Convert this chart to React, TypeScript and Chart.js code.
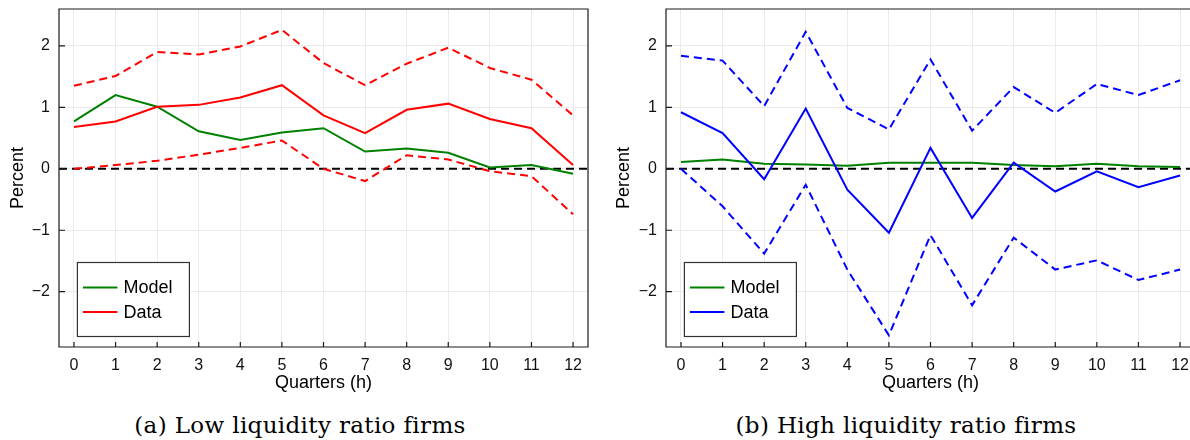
import React, { useEffect, useRef } from "react";
import { Chart, registerables } from "chart.js";

Chart.register(...registerables);

// ---------------- data ----------------
const quarters = [0, 1, 2, 3, 4, 5, 6, 7, 8, 9, 10, 11, 12];
const yTickValues = [-2, -1, 0, 1, 2];

const lowModel = [0.77, 1.2, 1.01, 0.61, 0.47, 0.59, 0.66, 0.28, 0.33, 0.26, 0.02, 0.06, -0.08];
const lowData = [0.68, 0.77, 1.01, 1.04, 1.16, 1.36, 0.87, 0.58, 0.96, 1.06, 0.81, 0.66, 0.06];
const lowUpper = [1.35, 1.51, 1.9, 1.86, 1.99, 2.26, 1.72, 1.36, 1.71, 1.97, 1.64, 1.45, 0.87];
const lowLower = [0.0, 0.06, 0.13, 0.23, 0.34, 0.46, 0.0, -0.2, 0.22, 0.15, -0.04, -0.12, -0.74];

const highModel = [0.11, 0.15, 0.08, 0.07, 0.05, 0.1, 0.1, 0.1, 0.06, 0.04, 0.08, 0.04, 0.03];
const highData = [0.92, 0.58, -0.17, 0.98, -0.34, -1.04, 0.34, -0.8, 0.1, -0.37, -0.04, -0.3, -0.11];
const highUpper = [1.84, 1.76, 1.02, 2.23, 0.99, 0.64, 1.78, 0.62, 1.33, 0.91, 1.38, 1.2, 1.44];
const highLower = [0.0, -0.61, -1.38, -0.26, -1.64, -2.71, -1.08, -2.22, -1.12, -1.64, -1.49, -1.81, -1.64];

const captionA = "(a) Low liquidity ratio firms";
const captionB = "(b) High liquidity ratio firms";

const X_MIN = -0.36;
const X_MAX = 12.36;
const Y_MIN = -2.9;
const Y_MAX = 2.6;

const SANS = "'Liberation Sans', Arial, Helvetica, sans-serif";
const GREEN = "#008000";
const RED = "#ff0000";
const BLUE = "#0000ff";

const toPts = (vals: number[]) => vals.map((v, i) => ({ x: quarters[i], y: v }));

const fmtTick = (v: number) => (v < 0 ? "\u2212" + Math.abs(v) : String(v));

const decorPlugin = {
  id: "decor",
  beforeDatasetsDraw(chart: any) {
    const { ctx, chartArea, scales } = chart;
    const y0 = scales.y.getPixelForValue(0);
    ctx.save();
    ctx.strokeStyle = "#000";
    ctx.lineWidth = 2;
    ctx.setLineDash([8, 5]);
    ctx.beginPath();
    ctx.moveTo(chartArea.left, y0);
    ctx.lineTo(chartArea.right, y0);
    ctx.stroke();
    ctx.restore();
  },
  afterDraw(chart: any, _args: any, opts: any) {
    const { ctx, chartArea, scales } = chart;
    const { left, right, top, bottom } = chartArea;
    ctx.save();
    // box
    ctx.strokeStyle = "#1a1a1a";
    ctx.lineWidth = 1.2;
    ctx.setLineDash([]);
    ctx.beginPath();
    ctx.rect(left, top, right - left, bottom - top);
    ctx.stroke();
    // inward ticks
    ctx.beginPath();
    for (const q of quarters) {
      const px = scales.x.getPixelForValue(q);
      ctx.moveTo(px, bottom);
      ctx.lineTo(px, bottom - 5);
    }
    for (const v of yTickValues) {
      const py = scales.y.getPixelForValue(v);
      ctx.moveTo(left, py);
      ctx.lineTo(left + 6, py);
    }
    ctx.stroke();

    // legend
    const items = chart.data.datasets.filter((d: any) => d.inLegend);
    const bx = left + opts.offsetX;
    const bw = opts.width;
    const bh = opts.height;
    const by = bottom - opts.offsetBottom - bh;
    ctx.fillStyle = "#fff";
    ctx.fillRect(bx, by, bw, bh);
    ctx.strokeStyle = "#333";
    ctx.lineWidth = 1.2;
    ctx.strokeRect(bx, by, bw, bh);
    ctx.font = `18px ${SANS}`;
    ctx.textBaseline = "middle";
    ctx.textAlign = "left";
    items.forEach((d: any, i: number) => {
      const cy = by + opts.firstRow + i * opts.rowGap;
      ctx.strokeStyle = d.borderColor;
      ctx.lineWidth = 2;
      ctx.beginPath();
      ctx.moveTo(bx + 5.5, cy);
      ctx.lineTo(bx + 40, cy);
      ctx.stroke();
      ctx.fillStyle = "#000";
      ctx.fillText(d.label, bx + 46, cy + 1);
    });
    ctx.restore();
  },
};

type PanelProps = {
  width: number;
  height: number;
  yAxisWidth: number;
  padRight: number;
  yTitlePad: number;
  model: number[];
  data: number[];
  upper: number[];
  lower: number[];
  dataColor: string;
};

function Panel(p: PanelProps) {
  const ref = useRef<HTMLCanvasElement | null>(null);
  useEffect(() => {
    if (!ref.current) return;
    const lineDs = (label: string, vals: number[], color: string, dashed: boolean, inLegend: boolean) => ({
      label,
      data: toPts(vals),
      borderColor: color,
      backgroundColor: color,
      borderWidth: 2,
      borderDash: dashed ? [8, 5] : [],
      pointRadius: 0,
      tension: 0,
      fill: false,
      inLegend,
    });
    const chart = new Chart(ref.current, {
      type: "line",
      data: {
        datasets: [
          lineDs("Data upper", p.upper, p.dataColor, true, false),
          lineDs("Data lower", p.lower, p.dataColor, true, false),
          lineDs("Data", p.data, p.dataColor, false, false),
          lineDs("Model", p.model, GREEN, false, true),
          { ...lineDs("Data", [], p.dataColor, false, true) },
        ] as any,
      },
      options: {
        animation: false,
        responsive: false,
        devicePixelRatio: 1,
        layout: { padding: { top: 9, right: p.padRight, left: 0, bottom: 0 } },
        plugins: {
          legend: { display: false },
          tooltip: { enabled: false },
          decor: { offsetX: 18.4, width: 112, height: 74, offsetBottom: 10.5, firstRow: 25, rowGap: 24.6 },
        } as any,
        scales: {
          x: {
            type: "linear",
            min: X_MIN,
            max: X_MAX,
            afterBuildTicks: (s: any) => {
              s.ticks = quarters.map((v) => ({ value: v }));
            },
            afterFit: (s: any) => {
              s.height = p.height - 347;
              s.paddingLeft = 0;
              s.paddingRight = 0;
            },
            grid: { color: "#ebebeb", lineWidth: 1, drawTicks: false },
            border: { display: false },
            ticks: {
              padding: 9,
              color: "#111",
              font: { size: 16, family: SANS },
              callback: (v: any) => String(v),
            },
            title: {
              display: true,
              text: "Quarters (h)",
              color: "#000",
              font: { size: 18, family: SANS },
              padding: { top: 0, bottom: 6 },
            },
          },
          y: {
            type: "linear",
            min: Y_MIN,
            max: Y_MAX,
            afterBuildTicks: (s: any) => {
              s.ticks = yTickValues.map((v) => ({ value: v }));
            },
            afterFit: (s: any) => {
              s.width = p.yAxisWidth;
              s.paddingTop = 0;
              s.paddingBottom = 0;
            },
            grid: { color: "#ebebeb", lineWidth: 1, drawTicks: false },
            border: { display: false },
            ticks: {
              padding: 9,
              color: "#111",
              font: { size: 16, family: SANS },
              callback: (v: any) => fmtTick(Number(v)),
            },
            title: {
              display: true,
              text: "Percent",
              color: "#000",
              font: { size: 18, family: SANS },
              padding: { top: p.yTitlePad, bottom: 0 },
            },
          },
        },
      },
      plugins: [decorPlugin as any],
    });
    return () => chart.destroy();
  }, []);
  return <canvas ref={ref} width={p.width} height={p.height} style={{ width: p.width, height: p.height, display: "block" }} />;
}

const captionStyle: React.CSSProperties = {
  position: "absolute",
  top: 409,
  width: 600,
  textAlign: "center",
  fontFamily: "'DejaVu Serif', 'Liberation Serif', serif",
  fontSize: 23,
  letterSpacing: "0.35px",
  lineHeight: "32px",
  color: "#000",
  whiteSpace: "nowrap",
};

export default function App() {
  return (
    <div style={{ position: "fixed", left: 0, top: 0, width: 1190, height: 440, overflow: "hidden", background: "#fff" }}>
      <div style={{ position: "absolute", left: 0, top: 0 }}>
        <Panel
          width={595}
          height={400}
          yAxisWidth={59}
          padRight={7}
          yTitlePad={7.7}
          model={lowModel}
          data={lowData}
          upper={lowUpper}
          lower={lowLower}
          dataColor={RED}
        />
      </div>
      <div style={{ position: "absolute", left: 595, top: 0 }}>
        <Panel
          width={605}
          height={400}
          yAxisWidth={71}
          padRight={5}
          yTitlePad={18}
          model={highModel}
          data={highData}
          upper={highUpper}
          lower={highLower}
          dataColor={BLUE}
        />
      </div>
      <div style={{ ...captionStyle, left: 0 }}>{captionA}</div>
      <div style={{ ...captionStyle, left: 606 }}>{captionB}</div>
    </div>
  );
}
